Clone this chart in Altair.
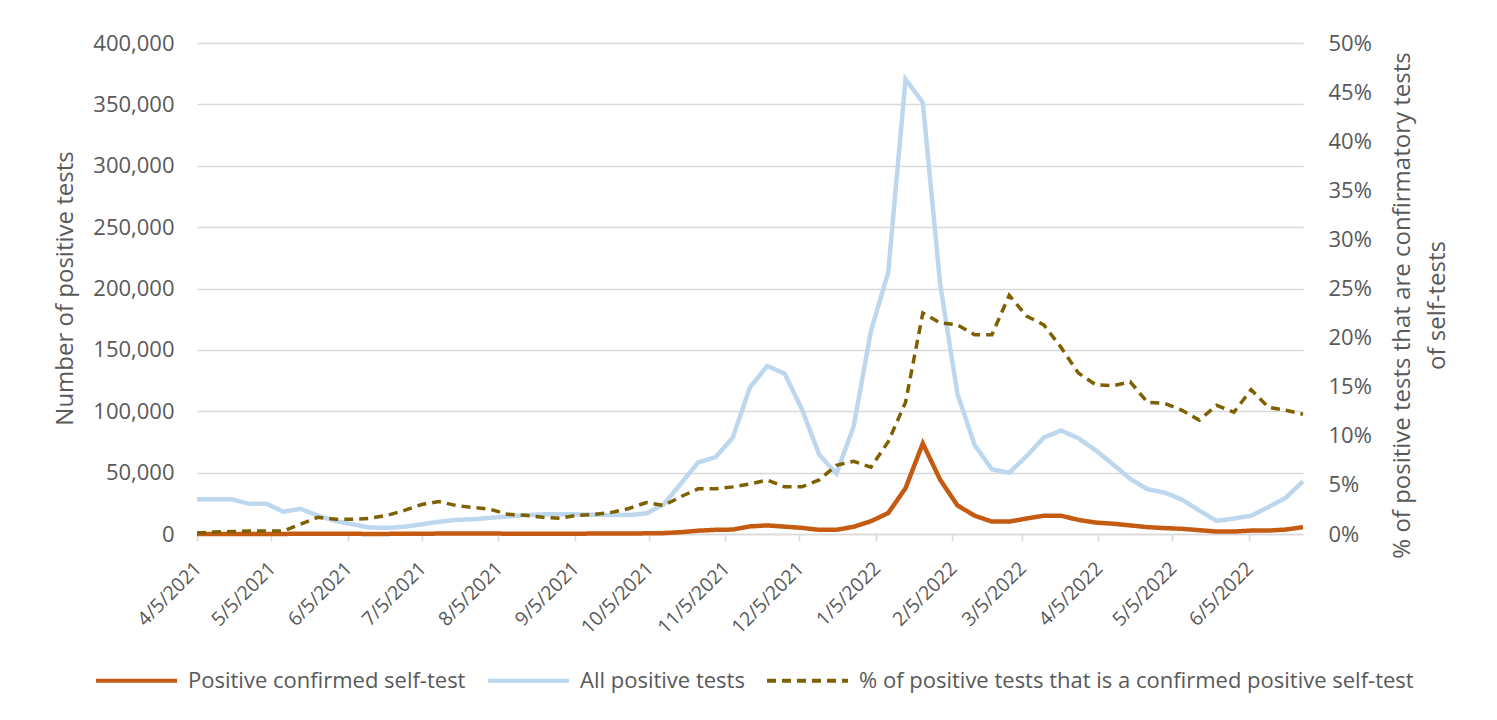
import altair as alt
import pandas as pd

# Weekly dates (Mondays)
dates = [
    "2021-04-05", "2021-04-12", "2021-04-19", "2021-04-26",
    "2021-05-03", "2021-05-10", "2021-05-17", "2021-05-24", "2021-05-31",
    "2021-06-07", "2021-06-14", "2021-06-21", "2021-06-28",
    "2021-07-05", "2021-07-12", "2021-07-19", "2021-07-26",
    "2021-08-02", "2021-08-09", "2021-08-16", "2021-08-23", "2021-08-30",
    "2021-09-06", "2021-09-13", "2021-09-20", "2021-09-27",
    "2021-10-04", "2021-10-11", "2021-10-18", "2021-10-25",
    "2021-11-01", "2021-11-08", "2021-11-15", "2021-11-22", "2021-11-29",
    "2021-12-06", "2021-12-13", "2021-12-20", "2021-12-27",
    "2022-01-03", "2022-01-10", "2022-01-17", "2022-01-24", "2022-01-31",
    "2022-02-07", "2022-02-14", "2022-02-21", "2022-02-28",
    "2022-03-07", "2022-03-14", "2022-03-21", "2022-03-28",
    "2022-04-04", "2022-04-11", "2022-04-18", "2022-04-25",
    "2022-05-02", "2022-05-09", "2022-05-16", "2022-05-23", "2022-05-30",
    "2022-06-06", "2022-06-13", "2022-06-20", "2022-06-27",
]

confirmed_self_test = [
    30, 60, 70, 70, 75, 55, 205, 250, 160, 120, 85, 95, 140, 240, 330, 330,
    320, 330, 290, 290, 270, 260, 300, 310, 340, 400, 540, 700, 1500, 2700,
    3400, 3600, 6200, 7000, 6000, 5000, 3400, 3400, 5900, 10400, 17100, 37300,
    73800, 44300, 23300, 14900, 10100, 10100, 12600, 14900, 14900, 11500, 9300,
    8400, 7000, 5600, 4800, 4200, 3100, 2000, 2000, 2800, 2800, 3600, 5600,
]

all_positive = [
    28300, 28300, 28300, 24700, 24700, 18200, 20500, 14900, 10700, 7900, 5300,
    5000, 5900, 7900, 10000, 11500, 12000, 13200, 14300, 15400, 16000, 16000,
    16000, 15700, 15400, 15400, 16800, 24000, 41000, 58300, 62600, 78500,
    119500, 136900, 130700, 101800, 64800, 49100, 87800, 165500, 213200,
    370500, 351500, 204000, 114400, 72400, 52700, 49900, 63400, 78500, 84400,
    78000, 68200, 56900, 44900, 36500, 33700, 28000, 19100, 10700, 12600,
    14900, 21900, 29500, 42900,
]

pct_confirmed = [
    0.1, 0.2, 0.25, 0.3, 0.3, 0.3, 1.0, 1.7, 1.5, 1.5, 1.6, 1.9, 2.4, 3.0, 3.3,
    2.9, 2.7, 2.5, 2.0, 1.9, 1.7, 1.6, 1.9, 2.0, 2.2, 2.6, 3.2, 2.9, 3.8, 4.6,
    4.6, 4.8, 5.1, 5.5, 4.8, 4.8, 5.5, 7.0, 7.4, 6.8, 9.4, 13.4, 22.5, 21.5,
    21.3, 20.3, 20.3, 24.3, 22.2, 21.3, 19.0, 16.4, 15.2, 15.1, 15.5, 13.4,
    13.3, 12.6, 11.6, 13.1, 12.4, 14.7, 12.9, 12.6, 12.2,
]

series_names = [
    "Positive confirmed self-test",
    "All positive tests",
    "% of positive tests that is a confirmed positive self-test",
]
series_colors = ["#C55A11", "#BDD7EE", "#7F6000"]
series_dashes = [[1, 0], [1, 0], [9, 6]]

left_ticks = [0, 50000, 100000, 150000, 200000, 250000, 300000, 350000, 400000]
right_ticks = [0, 0.05, 0.10, 0.15, 0.20, 0.25, 0.30, 0.35, 0.40, 0.45, 0.50]
tick_months = [(2021, m) for m in range(4, 13)] + [(2022, m) for m in range(1, 7)]

df_orange = pd.DataFrame({"date": dates, "value": confirmed_self_test, "series": series_names[0]})
df_blue = pd.DataFrame({"date": dates, "value": all_positive, "series": series_names[1]})
df_pct = pd.DataFrame({"date": dates, "pct": [p / 100 for p in pct_confirmed], "series": series_names[2]})

FONT = "Open Sans"
GRAY = "#595959"

x_enc = alt.X(
    "date:T",
    scale=alt.Scale(
        type="utc",
        domain=[alt.DateTime(year=2021, month=4, date=5, utc=True),
                alt.DateTime(year=2022, month=6, date=27, utc=True)],
        nice=False,
    ),
    axis=alt.Axis(
        title=None,
        values=[alt.DateTime(year=y, month=m, date=5, utc=True) for y, m in tick_months],
        labelExpr="utcFormat(datum.value, '%-m/%-d/%Y')",
        labelAngle=-45,
        labelAlign="right",
        labelBaseline="middle",
        labelPadding=24,
        labelOffset=1,
        labelFontSize=19.5,
        labelColor=GRAY,
        labelFont=FONT,
        labelOverlap=False,
        labelFlush=False,
        grid=False,
        domainColor="#d9d9d9",
        domainWidth=1.5,
        tickColor="#d9d9d9",
        tickWidth=1.5,
        tickSize=7,
    ),
)

legend_cfg = dict(
    title=None,
    orient="none",
    direction="horizontal",
    legendX=-103,
    legendY=595,
    symbolType="stroke",
    symbolSize=6561,
    symbolStrokeWidth=4,
    labelFontSize=22,
    labelFont=FONT,
    labelColor=GRAY,
    labelOffset=9,
    columnPadding=14,
    labelLimit=800,
)

color_enc = alt.Color(
    "series:N",
    scale=alt.Scale(domain=series_names, range=series_colors),
    legend=alt.Legend(**legend_cfg),
)
dash_enc = alt.StrokeDash(
    "series:N",
    scale=alt.Scale(domain=series_names, range=series_dashes),
    legend=alt.Legend(**legend_cfg),
)

y_left = alt.Y(
    "value:Q",
    scale=alt.Scale(domain=[0, 400000], nice=False),
    axis=alt.Axis(
        orient="left",
        values=left_ticks,
        format=",.0f",
        title="Number of positive tests",
        titleFont=FONT,
        titleFontSize=24,
        titleFontWeight="normal",
        titleColor=GRAY,
        titleAngle=270,
        titleAlign="center",
        titleBaseline="middle",
        titleX=-132,
        titleY=245,
        labelFont=FONT,
        labelFontSize=22,
        labelColor=GRAY,
        labelPadding=23,
        domain=False,
        ticks=False,
        grid=True,
        gridColor="#d9d9d9",
        gridWidth=1.3,
    ),
)

y_right = alt.Y(
    "pct:Q",
    scale=alt.Scale(domain=[0, 0.5], nice=False),
    axis=alt.Axis(
        orient="right",
        values=right_ticks,
        format=".0%",
        title=["% of positive tests that are confirmatory tests", "of self-tests"],
        titleFont=FONT,
        titleFontSize=24,
        titleFontWeight="normal",
        titleColor=GRAY,
        titleAngle=270,
        titleAlign="center",
        titleBaseline="middle",
        titleLineHeight=35,
        titleX=99,
        titleY=262,
        labelFont=FONT,
        labelFontSize=22,
        labelColor=GRAY,
        labelPadding=25,
        domain=False,
        ticks=False,
        grid=False,
    ),
)

blue = alt.Chart(df_blue).mark_line(strokeWidth=4.5).encode(
    x=x_enc, y=y_left, color=color_enc, strokeDash=dash_enc
)
orange = alt.Chart(df_orange).mark_line(strokeWidth=4.5).encode(
    x=x_enc, y=y_left, color=color_enc, strokeDash=dash_enc
)
dashed = alt.Chart(df_pct).mark_line(strokeWidth=3.5).encode(
    x=x_enc, y=y_right, color=color_enc, strokeDash=dash_enc
)

chart = (
    alt.layer(alt.layer(blue, orange), dashed)
    .resolve_scale(y="independent")
    .properties(
        width=1106,
        height=491,
        padding={"left": 189, "top": 35, "right": 185, "bottom": 186},
        autosize=alt.AutoSizeParams(type="none"),
        background="white",
    )
    .configure_view(stroke=None)
)

chart.save("out.html", embed_options={"renderer": "svg", "actions": False})
